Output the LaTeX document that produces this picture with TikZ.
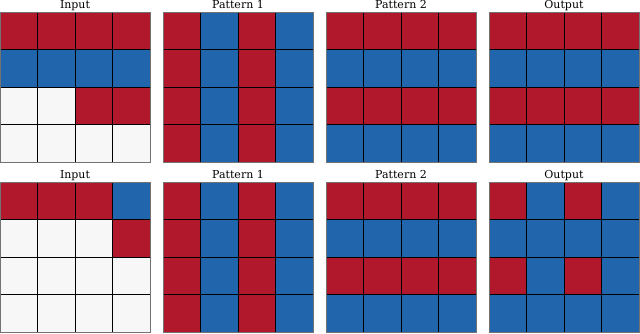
\documentclass[tikz,border=0pt]{standalone}
\usepackage{fontspec}
\setmainfont{DejaVu Serif}
\definecolor{cR}{HTML}{B2182B}
\definecolor{cB}{HTML}{2166AC}
\definecolor{cW}{HTML}{F7F7F7}

\tikzset{
  cellbox/.style={draw=black, line width=1pt},
  gridframe/.style={draw=black!55, line width=0.7pt},
  paneltitle/.style={anchor=base, inner sep=0pt, font=\fontsize{11}{13}\selectfont},
}

% #1 left, #2 top, #3 name, #4 title, #5 rows of cell colours
\newcommand{\panelgrid}[5]{%
  \node[paneltitle] (#3) at (#1+75,#2-3.5) {#4};
  \foreach \cells [count=\r from 0] in {#5} {
    \foreach \col [count=\k from 0] in \cells {
      \path[cellbox, fill=c\col] (#1+37.5*\k,#2+37.5*\r) rectangle ++(37.5,37.5);
    }
  }
  \draw[gridframe] (#1,#2) rectangle ++(150,150);
}

\begin{document}
\begin{tikzpicture}[x=1pt, y=-1pt]
  \useasboundingbox (0,0) rectangle (640,333);

  % first example
  \panelgrid{0}{12}{inA}{Input}{{R,R,R,R},{B,B,B,B},{W,W,R,R},{W,W,W,W}}
  \panelgrid{163}{12}{patA1}{Pattern 1}{{R,B,R,B},{R,B,R,B},{R,B,R,B},{R,B,R,B}}
  \panelgrid{326}{12}{patA2}{Pattern 2}{{R,R,R,R},{B,B,B,B},{R,R,R,R},{B,B,B,B}}
  \panelgrid{489}{12}{outA}{Output}{{R,R,R,R},{B,B,B,B},{R,R,R,R},{B,B,B,B}}

  % second example
  \panelgrid{0}{182}{inB}{Input}{{R,R,R,B},{W,W,W,R},{W,W,W,W},{W,W,W,W}}
  \panelgrid{163}{182}{patB1}{Pattern 1}{{R,B,R,B},{R,B,R,B},{R,B,R,B},{R,B,R,B}}
  \panelgrid{326}{182}{patB2}{Pattern 2}{{R,R,R,R},{B,B,B,B},{R,R,R,R},{B,B,B,B}}
  \panelgrid{489}{182}{outB}{Output}{{R,B,R,B},{B,B,B,B},{R,B,R,B},{B,B,B,B}}
\end{tikzpicture}
\end{document}
